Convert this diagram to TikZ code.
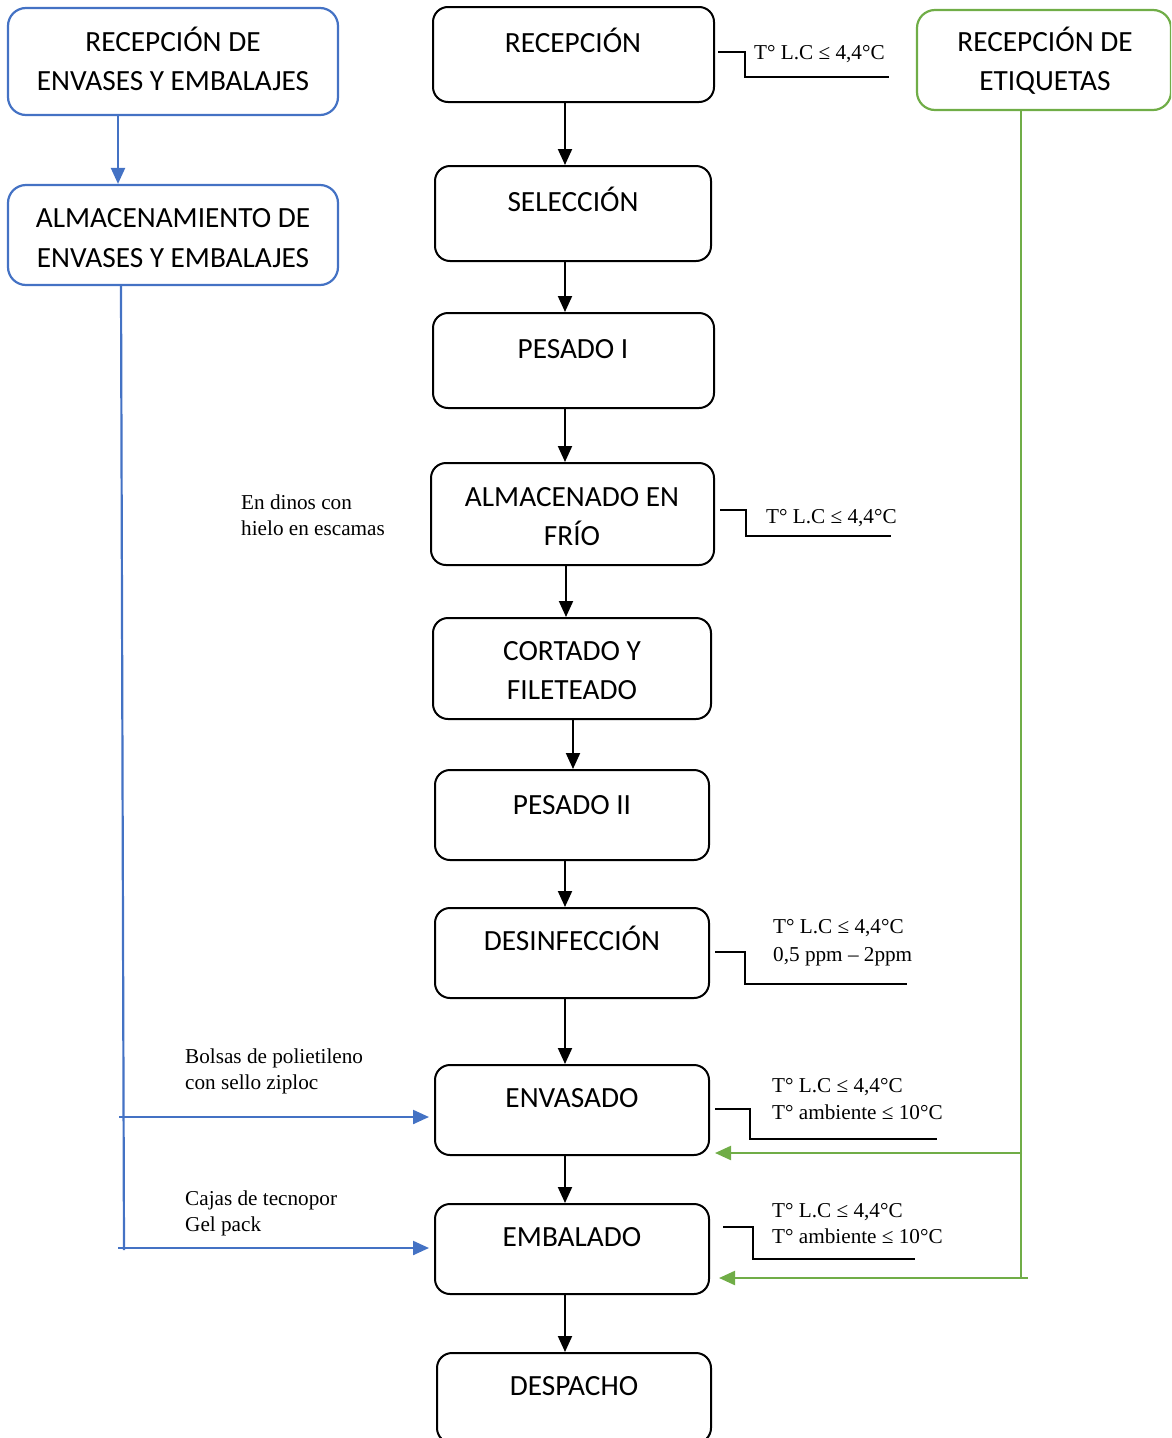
\documentclass[tikz,border=0pt]{standalone}
\usepackage{fontspec}
\setmainfont{Liberation Serif}
\newfontfamily\boxfont{Carlito}
\usetikzlibrary{arrows.meta}
\definecolor{bblue}{HTML}{4472C4}
\definecolor{bgreen}{HTML}{70AD47}
\begin{document}
\begin{tikzpicture}[x=1pt,y=-1pt,
 cbox/.style={draw=black, line width=2pt, rounded corners=15pt, inner sep=0pt},
 bbox/.style={draw=bblue, line width=2.2pt, rounded corners=18pt, inner sep=0pt},
 gbox/.style={draw=bgreen, line width=2.2pt, rounded corners=18pt, inner sep=0pt},
 btxt/.style={font=\boxfont\fontsize{29.3}{39}\selectfont, anchor=base, inner sep=0pt},
 ntxt/.style={font=\fontsize{21.2}{26}\selectfont, anchor=base west, inner sep=0pt},
 arr/.style={draw=black, line width=2pt, -{Triangle[length=16pt,width=14pt]}},
 barr/.style={draw=bblue, line width=2.2pt, -{Triangle[length=16pt,width=14pt]}},
 garr/.style={draw=bgreen, line width=2.2pt, -{Triangle[length=16pt,width=14pt]}},
 bline/.style={draw=bblue, line width=2.2pt},
 gline/.style={draw=bgreen, line width=2.2pt},
 call/.style={draw=black, line width=1.2pt}
]
\useasboundingbox (0,0) rectangle (1171,1438);
\clip (0,0) rectangle (1171,1438);

% side boxes
\node[bbox, minimum width=330pt, minimum height=107pt] (b1) at (173,61.5) {};
\node[btxt] (b1t1) at (173,51) {RECEPCIÓN DE};
\node[btxt] (b1t2) at (173,90) {ENVASES Y EMBALAJES};
\node[bbox, minimum width=330pt, minimum height=100pt] (b2) at (173,235) {};
\node[btxt] (b2t1) at (173,227) {ALMACENAMIENTO DE};
\node[btxt] (b2t2) at (173,267) {ENVASES Y EMBALAJES};
\node[gbox, minimum width=254pt, minimum height=100pt] (g1) at (1044,60) {};
\node[btxt] (g1t1) at (1045,51) {RECEPCIÓN DE};
\node[btxt] (g1t2) at (1045,90) {ETIQUETAS};

% main boxes
\node[cbox, minimum width=281pt, minimum height=95pt] (c1) at (573.5,54.5) {};
\node[btxt] (c1t) at (573,52) {RECEPCIÓN};
\node[cbox, minimum width=276pt, minimum height=95pt] (c2) at (573,213.5) {};
\node[btxt] (c2t) at (573,211) {SELECCIÓN};
\node[cbox, minimum width=281pt, minimum height=95pt] (c3) at (573.5,360.5) {};
\node[btxt] (c3t) at (573,358) {PESADO I};
\node[cbox, minimum width=283pt, minimum height=102pt] (c4) at (572.5,514) {};
\node[btxt] (c4t1) at (572,506) {ALMACENADO EN};
\node[btxt] (c4t2) at (572,545) {FRÍO};
\node[cbox, minimum width=278pt, minimum height=101pt] (c5) at (572,668.5) {};
\node[btxt] (c5t1) at (572,660) {CORTADO Y};
\node[btxt] (c5t2) at (572,699) {FILETEADO};
\node[cbox, minimum width=274pt, minimum height=90pt] (c6) at (572,815) {};
\node[btxt] (c6t) at (572,814) {PESADO II};
\node[cbox, minimum width=274pt, minimum height=90pt] (c7) at (572,953) {};
\node[btxt] (c7t) at (572,950) {DESINFECCIÓN};
\node[cbox, minimum width=274pt, minimum height=90pt] (c8) at (572,1110) {};
\node[btxt] (c8t) at (572,1107) {ENVASADO};
\node[cbox, minimum width=274pt, minimum height=90pt] (c9) at (572,1249) {};
\node[btxt] (c9t) at (572,1246) {EMBALADO};
\node[cbox, minimum width=274pt, minimum height=90pt] (c10) at (574,1398) {};
\node[btxt] (c10t) at (574,1395) {DESPACHO};

% main arrows
\coordinate (ax) at (565,0);
\coordinate (ax3) at (566,0);
\coordinate (ax2) at (573,0);
\draw[arr] (c1.south -| ax) -- (c2.north -| ax);
\draw[arr] (c2.south -| ax) -- (c3.north -| ax);
\draw[arr] (c3.south -| ax) -- (c4.north -| ax);
\draw[arr] (c4.south -| ax3) -- (c5.north -| ax3);
\draw[arr] (c5.south -| ax2) -- (c6.north -| ax2);
\draw[arr] (c6.south -| ax) -- (c7.north -| ax);
\draw[arr] (c7.south -| ax) -- (c8.north -| ax);
\draw[arr] (c8.south -| ax) -- (c9.north -| ax);
\draw[arr] (c9.south -| ax) -- (c10.north -| ax);

% blue connectors
\coordinate (bx1) at (118,0);
\coordinate (bx2) at (121,0);
\coordinate (bEnd) at (124,1250);
\draw[barr] (b1.south -| bx1) -- (b2.north -| bx1);
\draw[bline] (b2.south -| bx2) -- (bEnd);
\coordinate (bA) at (119,1117);
\coordinate (bB) at (118,1248);
\coordinate (c8L) at ([xshift=-5pt]c8.west);
\coordinate (c9L) at ([xshift=-5pt]c9.west);
\draw[barr] (bA) -- (c8L |- bA);
\draw[barr] (bB) -- (c9L |- bB);

% green connectors
\coordinate (gx) at (1021,0);
\coordinate (gEnd) at (1021,1279);
\draw[gline] (g1.south -| gx) -- (gEnd);
\coordinate (gA) at (1022,1153);
\coordinate (gB) at (1028,1278);
\coordinate (c8R) at ([xshift=5pt]c8.east);
\coordinate (c9R) at ([xshift=9pt]c9.east);
\draw[garr] (gA) -- (c8R |- gA);
\draw[garr] (gB) -- (c9R |- gB);

% callouts
\draw[call] (718,52) -| (745,77) -- (889,77);
\node[ntxt] (n1) at (754,59) {T° L.C ≤ 4,4°C};
\draw[call] (720,510) -| (746,536) -- (891,536);
\node[ntxt] (n2) at (766,523) {T° L.C ≤ 4,4°C};
\draw[call] (715,952) -| (745,984) -- (907,984);
\node[ntxt] (n3a) at (773,933) {T° L.C ≤ 4,4°C};
\node[ntxt] (n3b) at (773,961) {0,5 ppm – 2ppm};
\draw[call] (715,1109) -| (750,1139) -- (937,1139);
\node[ntxt] (n4a) at (772,1092) {T° L.C ≤ 4,4°C};
\node[ntxt] (n4b) at (772,1119) {T° ambiente ≤ 10°C};
\draw[call] (723,1227) -| (753,1259) -- (915,1259);
\node[ntxt] (n5a) at (772,1217) {T° L.C ≤ 4,4°C};
\node[ntxt] (n5b) at (772,1243) {T° ambiente ≤ 10°C};

% left notes
\node[ntxt] (l1a) at (241,509) {En dinos con};
\node[ntxt] (l1b) at (241,535) {hielo en escamas};
\node[ntxt] (l2a) at (185,1063) {Bolsas de polietileno};
\node[ntxt] (l2b) at (185,1089) {con sello ziploc};
\node[ntxt] (l3a) at (185,1205) {Cajas de tecnopor};
\node[ntxt] (l3b) at (185,1231) {Gel pack};
\end{tikzpicture}
\end{document}
